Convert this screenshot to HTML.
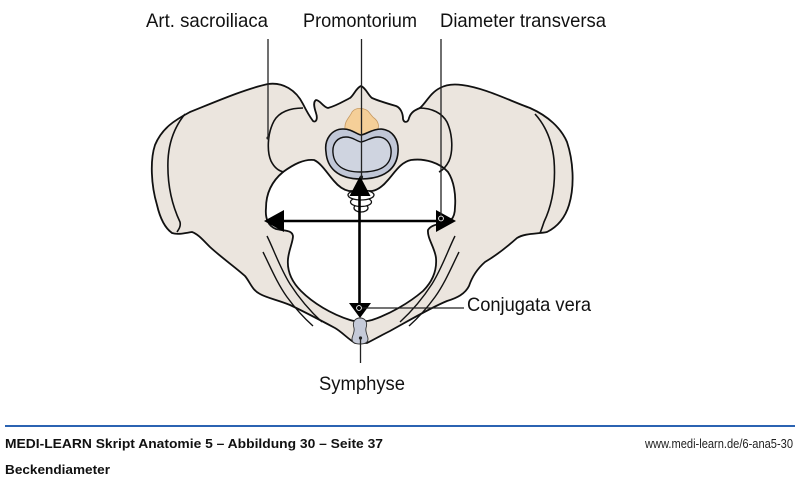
<!DOCTYPE html>
<html>
<head>
<meta charset="utf-8">
<style>
  html,body{margin:0;padding:0;background:#fff;}
  body{width:800px;height:480px;overflow:hidden;}
  svg{display:block;}
  text{font-family:"Liberation Sans", sans-serif;}
</style>
</head>
<body>
<svg width="800" height="480" viewBox="0 0 800 480" xmlns="http://www.w3.org/2000/svg">
  <rect x="0" y="0" width="800" height="480" fill="#ffffff"/>

  <!-- Pelvis outer silhouette -->
  <path d="M 268,84
    C 283,82 296,90 303,104
    C 306,110 310,117 313,121
    C 316,123 318,119 316,113
    C 314,107 313,102 316,100
    C 320,100 323,107 328,108
    C 336,106 344,101 350,98
    C 354,95 356,88 361,86
    C 366,88 368,95 372,98
    C 379,101 389,104 396,106
    C 401,108 403,114 403,119
    C 404,123 408,123 409,118
    C 411,112 415,110 420,108
    C 426,103 430,93 440,88
    C 447,84 455,84 462,85
    C 485,88 508,100 530,108
    C 548,116 561,128 567,142
    C 573,160 575,185 569,205
    C 565,218 557,227 547,232
    C 538,234 525,233 517,238
    C 508,246 497,255 485,262
    C 477,269 472,277 469,286
    C 465,294 457,298 447,301
    C 430,308 410,320 390,331
    C 380,336 373,340 367,343
    L 355,343
    C 348,339 342,332 335,328
    C 320,320 305,312 290,305
    C 278,300 267,298 260,294
    C 252,290 250,282 245,276
    C 235,267 222,258 210,247
    C 203,240 198,234 192,232
    C 185,233 178,235 172,233
    C 165,228 160,218 157,205
    C 151,185 150,160 155,145
    C 162,128 175,120 190,112
    C 215,102 245,89 268,84 Z"
    fill="#ebe5de" stroke="#111" stroke-width="1.8" stroke-linejoin="round"/>

  <!-- Pelvic inlet (white hole) -->
  <path d="M 283,172
    C 294,164 304,159 314,160
    C 321,163 327,173 334,181
    C 339,187 344,190 349,191
    L 372,191
    C 378,190 383,186 388,180
    C 395,172 401,162 411,160
    C 425,158 440,163 448,172
    C 454,181 456,195 455,207
    C 455,213 454,217 451,220
    C 443,225 432,223 428,230
    C 427,238 435,248 436,258
    C 437,270 433,281 423,291
    C 409,303 390,314 372,320
    C 365,322 356,322 350,320
    C 331,314 313,303 301,291
    C 291,281 287,270 288,259
    C 289,249 293,242 293,236
    C 292,230 285,231 276,229
    C 268,226 265,218 266,208
    C 266,195 271,182 283,172 Z"
    fill="#ffffff" stroke="#111" stroke-width="1.8" stroke-linejoin="round"/>

  <!-- Iliac inner lines -->
  <path d="M 185,114 C 176,125 169,140 168,160 C 167,185 172,205 180,222 C 181,226 179,229 177,232" fill="none" stroke="#111" stroke-width="1.6"/>
  <path d="M 535,114 C 545,125 552,140 554,160 C 556,185 552,205 544,222 C 542,228 541,231 540,233" fill="none" stroke="#111" stroke-width="1.6"/>

  <!-- Sacroiliac joint lines -->
  <path d="M 303,108 C 290,108 279,112 274,121 C 267,134 267,152 271,161 C 274,167 278,171 284,172" fill="none" stroke="#111" stroke-width="1.6"/>
  <path d="M 419,108 C 432,108 442,113 447,122 C 453,135 453,152 449,161 C 446,167 443,170 439,172" fill="none" stroke="#111" stroke-width="1.6"/>

  <!-- Pubic rami lines -->
  <path d="M 267,236 C 274,250 280,268 290,284 C 299,298 310,311 322,322" fill="none" stroke="#111" stroke-width="1.4"/>
  <path d="M 263,252 C 270,266 277,283 287,297 C 295,308 304,318 313,326" fill="none" stroke="#111" stroke-width="1.4"/>
  <path d="M 455,236 C 448,250 442,268 432,284 C 423,298 412,311 400,322" fill="none" stroke="#111" stroke-width="1.4"/>
  <path d="M 459,252 C 452,266 445,283 435,297 C 427,308 418,318 409,326" fill="none" stroke="#111" stroke-width="1.4"/>

  <!-- Orange process -->
  <path d="M 345,129 C 344,121 350,117 352,112 C 355,108 360,108 364,109 C 369,110 370,115 374,118 C 378,121 380,126 377,131 C 371,132 366,134 361,135 C 356,134 350,130 345,129 Z"
    fill="#f5cf98" stroke="#c79a62" stroke-width="0.8"/>

  <!-- Vertebral body -->
  <path d="M 326,152 C 324,139 332,129 343,129 C 352,129 356,134 361,135 C 367,134 372,129 381,129 C 393,130 399,140 398,152 C 397,168 385,179 361,179 C 337,179 327,167 326,152 Z"
    fill="#c1c7d7" stroke="#111" stroke-width="1.6"/>
  <path d="M 333,153 C 332,143 338,137 346,137 C 353,137 356,141 361,142 C 367,141 371,137 378,137 C 387,137 392,145 391,154 C 390,166 380,172 361,172 C 343,172 334,165 333,153 Z"
    fill="#cfd4e0" stroke="#111" stroke-width="1.4"/>

  <!-- Coccyx lobes -->
  <ellipse cx="361" cy="208" rx="7" ry="4" fill="#fff" stroke="#111" stroke-width="1.3"/>
  <ellipse cx="361" cy="202" rx="10.5" ry="4.5" fill="#fff" stroke="#111" stroke-width="1.3"/>
  <ellipse cx="361" cy="195" rx="13" ry="5" fill="#fff" stroke="#111" stroke-width="1.3"/>

  <!-- Symphysis -->
  <path d="M 360,318 C 365,318 368,322 366,328 C 365,332 368,336 368,339 C 368,343 364,344 360,344 C 356,344 352,343 352,339 C 352,336 355,332 354,328 C 352,322 355,318 360,318 Z"
    fill="#c5cad8" stroke="#333" stroke-width="0.9"/>

  <!-- Arrows -->
  <line x1="280" y1="221" x2="440" y2="221" stroke="#000" stroke-width="2.6"/>
  <polygon points="264,221 284,210 284,232" fill="#000"/>
  <polygon points="456,221 436,210 436,232" fill="#000"/>
  <line x1="359.5" y1="190" x2="359.5" y2="306" stroke="#000" stroke-width="2.6"/>
  <polygon points="360,176 349.5,196 370.5,196" fill="#000"/>
  <polygon points="349,303 371,303 360,318" fill="#000"/>

  <!-- Leader lines -->
  <line x1="268" y1="39" x2="268" y2="138" stroke="#222" stroke-width="1.3"/>
  <circle cx="268" cy="138" r="1.6" fill="#222"/>
  <line x1="361.5" y1="39" x2="361.5" y2="177" stroke="#222" stroke-width="1.3"/>
  <circle cx="361.5" cy="177" r="1.6" fill="#222"/>
  <line x1="441" y1="39" x2="441" y2="216" stroke="#222" stroke-width="1.3"/>
  <circle cx="441" cy="218.5" r="2.4" fill="none" stroke="#fff" stroke-width="0.9"/>
  <line x1="361" y1="308" x2="464" y2="308" stroke="#222" stroke-width="1.3"/>
  <circle cx="359" cy="308" r="2.4" fill="none" stroke="#fff" stroke-width="0.9"/>
  <line x1="360.5" y1="338" x2="360.5" y2="363" stroke="#222" stroke-width="1.3"/>
  <circle cx="360.5" cy="338" r="1.6" fill="#222"/>

  <!-- Labels -->
  <text x="146" y="27" font-size="19.5" fill="#111" textLength="122" lengthAdjust="spacingAndGlyphs">Art. sacroiliaca</text>
  <text x="303" y="27" font-size="19.5" fill="#111" textLength="114" lengthAdjust="spacingAndGlyphs">Promontorium</text>
  <text x="440" y="27" font-size="19.5" fill="#111" textLength="166" lengthAdjust="spacingAndGlyphs">Diameter transversa</text>
  <text x="467" y="311" font-size="19.5" fill="#111" textLength="124" lengthAdjust="spacingAndGlyphs">Conjugata vera</text>
  <text x="319" y="390" font-size="19.5" fill="#111" textLength="86" lengthAdjust="spacingAndGlyphs">Symphyse</text>

  <!-- Footer -->
  <line x1="5" y1="426" x2="795" y2="426" stroke="#2b63b2" stroke-width="2"/>
  <text x="5" y="448" font-size="13" font-weight="bold" fill="#111" textLength="378" lengthAdjust="spacingAndGlyphs">MEDI-LEARN Skript Anatomie 5 – Abbildung 30 – Seite 37</text>
  <text x="5" y="474" font-size="13" font-weight="bold" fill="#111" textLength="105" lengthAdjust="spacingAndGlyphs">Beckendiameter</text>
  <text x="645" y="448" font-size="12.5" fill="#222" textLength="148" lengthAdjust="spacingAndGlyphs">www.medi-learn.de/6-ana5-30</text>
</svg>
</body>
</html>
